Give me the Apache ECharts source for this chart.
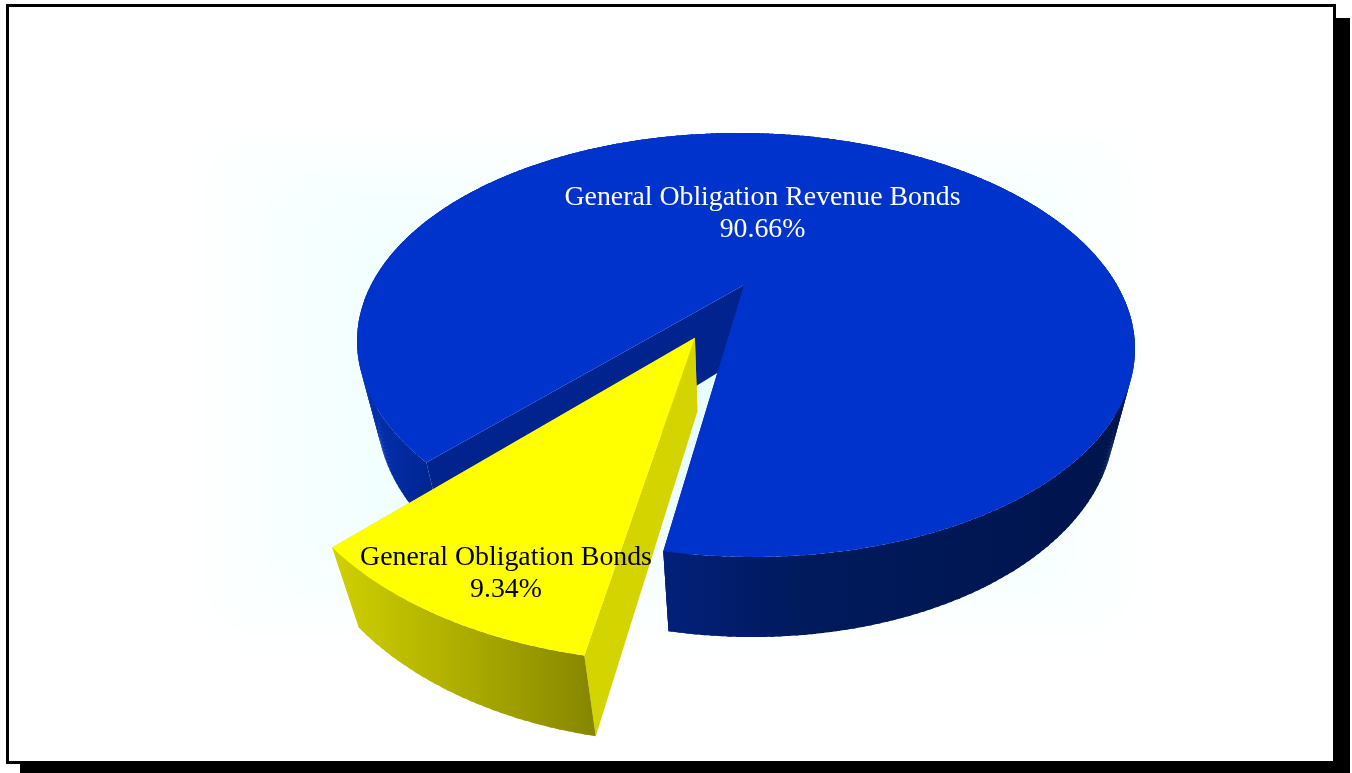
<!DOCTYPE html>
<html>
<head>
<meta charset="utf-8">
<style>html,body{margin:0;padding:0;background:#fff}#chart{width:1352px;height:773px}</style>
<script src="https://cdn.jsdelivr.net/npm/echarts@6/dist/echarts.min.js"></script>
</head>
<body>
<div id="chart"></div>
<script>
// Bond mix, in drawing order: the large slice first, the pulled-out slice over it.
var sliceNames = ['General Obligation Revenue Bonds', 'General Obligation Bonds'];
var sliceValues = [90.66, 9.34];
var sliceExplode = [0, 0.281];
var labelColors = ['#ffffff', '#000000'];
var labelCenters = [[762.5, 198], [506, 558]];

// Perspective projection of the pie's disc onto the page.
var view = { cx: 744, cy: 285, rx: 373, ry: 195, skew: 6.5, tilt: 0.283, depthW: 0.05, depthY: 75, startDeg: 43.6 };

var faces = [
  {
    top: '#0033cc',
    cut: '#00238e',
    wall: [[357, '#0432b4'], [440, '#00248e'], [665, '#02207a'], [800, '#001a5c'], [1135, '#00144c']]
  },
  {
    top: '#ffff00',
    cut: '#d4d400',
    wall: [[333, '#d0d000'], [450, '#b0b000'], [596, '#868600']]
  }
];

function project(x, y, z) {
  var w = 1 - view.tilt * y + view.depthW * z;
  return [view.cx + (view.rx * x + view.skew * y) / w, view.cy + (view.ry * y + view.depthY * z) / w];
}

function wallFill(stops) {
  var x0 = stops[0][0], x1 = stops[stops.length - 1][0];
  return new echarts.graphic.LinearGradient(x0, 0, x1, 0, stops.map(function (s) {
    return { offset: (s[0] - x0) / (x1 - x0), color: s[1] };
  }), true);
}

var total = sliceValues.reduce(function (a, b) { return a + b; }, 0);

function renderSlice(params, api) {
  var i = params.dataIndex;
  var before = 0;
  for (var k = 0; k < i; k++) before += sliceValues[k];
  var a0 = view.startDeg + before / total * 360;
  var sweep = api.value(0) / total * 360;
  var mid = (a0 + sweep / 2) * Math.PI / 180;
  var off = api.value(1);
  var ox = -Math.sin(mid) * off, oy = Math.cos(mid) * off;

  var topRim = [], lowRim = [];
  var steps = Math.ceil(sweep * 2);
  for (var s = 0; s <= steps; s++) {
    var t = (a0 + sweep * s / steps) * Math.PI / 180;
    var px = -Math.sin(t) + ox, py = Math.cos(t) + oy;
    topRim.push(project(px, py, 0));
    lowRim.push(project(px, py, 1));
  }
  var hubTop = project(ox, oy, 0), hubLow = project(ox, oy, 1);
  var f = faces[i];

  var poly = function (pts, fill) {
    return { type: 'polygon', shape: { points: pts }, style: { fill: fill } };
  };
  var children = [
    poly([hubTop, topRim[0], lowRim[0], hubLow], f.cut),
    poly([hubTop, topRim[steps], lowRim[steps], hubLow], f.cut)
  ];
  // The outer wall is swept in overlapping strips so its silhouette joins both rims.
  var fill = wallFill(f.wall);
  for (var q = 0; q < steps; q += 2) {
    var e = Math.min(q + 3, steps);
    children.push(poly(topRim.slice(q, e + 1).concat(lowRim.slice(q, e + 1).reverse()), fill));
  }
  children.push(poly([hubTop].concat(topRim), f.top));
  children.push({
    type: 'text',
    z2: 10,
    style: {
      x: labelCenters[i][0],
      y: labelCenters[i][1] + 16,
      text: sliceNames[i] + '\n' + api.value(0).toFixed(2) + '%',
      fill: labelColors[i],
      font: '27.8px "Liberation Serif"',
      lineHeight: 32,
      align: 'center',
      verticalAlign: 'middle'
    }
  });
  return { type: 'group', children: children };
}

// Card with a hard drop shadow and a pale cyan haze that deepens toward the middle.
var backdrop = [
  { type: 'rect', silent: true, shape: { x: 20, y: 18, width: 1330, height: 755 }, style: { fill: '#000' } },
  { type: 'rect', silent: true, shape: { x: 6, y: 4, width: 1330, height: 760 }, style: { fill: '#000' } },
  { type: 'rect', silent: true, shape: { x: 9, y: 7, width: 1324, height: 754 }, style: { fill: '#fff' } }
];
for (var layer = 0; layer < 24; layer++) {
  var inset = layer * 9;
  backdrop.push({
    type: 'rect', silent: true,
    shape: { x: 190 + inset * 1.6, y: 125 + inset, width: 960 - inset * 3.2, height: 520 - inset * 2, r: 60 },
    style: { fill: 'rgba(225,255,255,0.035)' }
  });
}

var chart = echarts.init(document.getElementById('chart'), null, { renderer: 'canvas' });
chart.setOption({
  animation: false,
  backgroundColor: '#ffffff',
  graphic: backdrop,
  series: [{
    type: 'custom',
    coordinateSystem: 'none',
    silent: true,
    renderItem: renderSlice,
    data: sliceValues.map(function (v, i) { return { name: sliceNames[i], value: [v, sliceExplode[i]] }; })
  }]
});
</script>
</body>
</html>
